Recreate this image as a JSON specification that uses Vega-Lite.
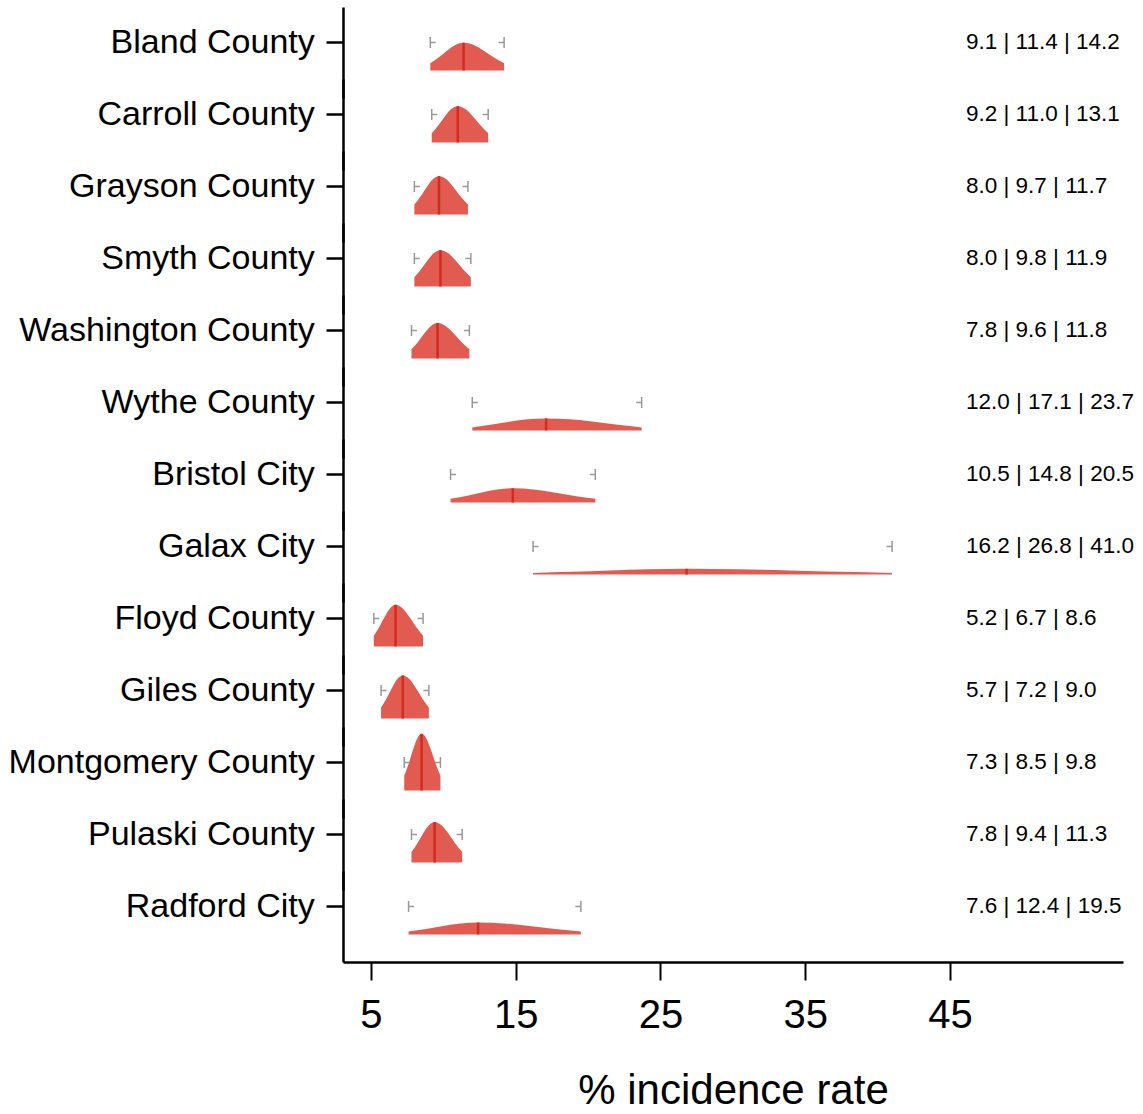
{
  "$schema": "https://vega.github.io/schema/vega-lite/v6.json",
  "padding": {"left": 8, "top": 7, "right": 5, "bottom": 2},
  "bounds": "flush",
  "spacing": 0,
  "data": {"values": [
    {"county": "Bland County", "x": 9.1, "d": 0.0664},
    {"county": "Bland County", "x": 9.675, "d": 0.1202},
    {"county": "Bland County", "x": 10.25, "d": 0.1835},
    {"county": "Bland County", "x": 10.825, "d": 0.2366},
    {"county": "Bland County", "x": 11.4, "d": 0.2574},
    {"county": "Bland County", "x": 12.1, "d": 0.2366},
    {"county": "Bland County", "x": 12.8, "d": 0.1835},
    {"county": "Bland County", "x": 13.5, "d": 0.1202},
    {"county": "Bland County", "x": 14.2, "d": 0.0664},
    {"county": "Carroll County", "x": 9.2, "d": 0.0868},
    {"county": "Carroll County", "x": 9.65, "d": 0.1572},
    {"county": "Carroll County", "x": 10.1, "d": 0.24},
    {"county": "Carroll County", "x": 10.55, "d": 0.3093},
    {"county": "Carroll County", "x": 11.0, "d": 0.3366},
    {"county": "Carroll County", "x": 11.525, "d": 0.3093},
    {"county": "Carroll County", "x": 12.05, "d": 0.24},
    {"county": "Carroll County", "x": 12.575, "d": 0.1572},
    {"county": "Carroll County", "x": 13.1, "d": 0.0868},
    {"county": "Grayson County", "x": 8.0, "d": 0.0915},
    {"county": "Grayson County", "x": 8.425, "d": 0.1657},
    {"county": "Grayson County", "x": 8.85, "d": 0.253},
    {"county": "Grayson County", "x": 9.275, "d": 0.3261},
    {"county": "Grayson County", "x": 9.7, "d": 0.3548},
    {"county": "Grayson County", "x": 10.2, "d": 0.3261},
    {"county": "Grayson County", "x": 10.7, "d": 0.253},
    {"county": "Grayson County", "x": 11.2, "d": 0.1657},
    {"county": "Grayson County", "x": 11.7, "d": 0.0915},
    {"county": "Smyth County", "x": 8.0, "d": 0.0868},
    {"county": "Smyth County", "x": 8.45, "d": 0.1572},
    {"county": "Smyth County", "x": 8.9, "d": 0.24},
    {"county": "Smyth County", "x": 9.35, "d": 0.3093},
    {"county": "Smyth County", "x": 9.8, "d": 0.3366},
    {"county": "Smyth County", "x": 10.325, "d": 0.3093},
    {"county": "Smyth County", "x": 10.85, "d": 0.24},
    {"county": "Smyth County", "x": 11.375, "d": 0.1572},
    {"county": "Smyth County", "x": 11.9, "d": 0.0868},
    {"county": "Washington County", "x": 7.8, "d": 0.0847},
    {"county": "Washington County", "x": 8.25, "d": 0.1533},
    {"county": "Washington County", "x": 8.7, "d": 0.234},
    {"county": "Washington County", "x": 9.15, "d": 0.3016},
    {"county": "Washington County", "x": 9.6, "d": 0.3282},
    {"county": "Washington County", "x": 10.15, "d": 0.3016},
    {"county": "Washington County", "x": 10.7, "d": 0.234},
    {"county": "Washington County", "x": 11.25, "d": 0.1533},
    {"county": "Washington County", "x": 11.8, "d": 0.0847},
    {"county": "Wythe County", "x": 12.0, "d": 0.0289},
    {"county": "Wythe County", "x": 13.275, "d": 0.0524},
    {"county": "Wythe County", "x": 14.55, "d": 0.08},
    {"county": "Wythe County", "x": 15.825, "d": 0.1031},
    {"county": "Wythe County", "x": 17.1, "d": 0.1122},
    {"county": "Wythe County", "x": 18.75, "d": 0.1031},
    {"county": "Wythe County", "x": 20.4, "d": 0.08},
    {"county": "Wythe County", "x": 22.05, "d": 0.0524},
    {"county": "Wythe County", "x": 23.7, "d": 0.0289},
    {"county": "Bristol City", "x": 10.5, "d": 0.0339},
    {"county": "Bristol City", "x": 11.575, "d": 0.0613},
    {"county": "Bristol City", "x": 12.65, "d": 0.0936},
    {"county": "Bristol City", "x": 13.725, "d": 0.1207},
    {"county": "Bristol City", "x": 14.8, "d": 0.1313},
    {"county": "Bristol City", "x": 16.225, "d": 0.1207},
    {"county": "Bristol City", "x": 17.65, "d": 0.0936},
    {"county": "Bristol City", "x": 19.075, "d": 0.0613},
    {"county": "Bristol City", "x": 20.5, "d": 0.0339},
    {"county": "Galax City", "x": 16.2, "d": 0.0136},
    {"county": "Galax City", "x": 18.85, "d": 0.0247},
    {"county": "Galax City", "x": 21.5, "d": 0.0377},
    {"county": "Galax City", "x": 24.15, "d": 0.0486},
    {"county": "Galax City", "x": 26.8, "d": 0.0529},
    {"county": "Galax City", "x": 30.35, "d": 0.0486},
    {"county": "Galax City", "x": 33.9, "d": 0.0377},
    {"county": "Galax City", "x": 37.45, "d": 0.0247},
    {"county": "Galax City", "x": 41.0, "d": 0.0136},
    {"county": "Floyd County", "x": 5.2, "d": 0.0996},
    {"county": "Floyd County", "x": 5.575, "d": 0.1803},
    {"county": "Floyd County", "x": 5.95, "d": 0.2753},
    {"county": "Floyd County", "x": 6.325, "d": 0.3548},
    {"county": "Floyd County", "x": 6.7, "d": 0.3861},
    {"county": "Floyd County", "x": 7.175, "d": 0.3548},
    {"county": "Floyd County", "x": 7.65, "d": 0.2753},
    {"county": "Floyd County", "x": 8.125, "d": 0.1803},
    {"county": "Floyd County", "x": 8.6, "d": 0.0996},
    {"county": "Giles County", "x": 5.7, "d": 0.1026},
    {"county": "Giles County", "x": 6.075, "d": 0.1858},
    {"county": "Giles County", "x": 6.45, "d": 0.2836},
    {"county": "Giles County", "x": 6.825, "d": 0.3656},
    {"county": "Giles County", "x": 7.2, "d": 0.3978},
    {"county": "Giles County", "x": 7.65, "d": 0.3656},
    {"county": "Giles County", "x": 8.1, "d": 0.2836},
    {"county": "Giles County", "x": 8.55, "d": 0.1858},
    {"county": "Giles County", "x": 9.0, "d": 0.1026},
    {"county": "Montgomery County", "x": 7.3, "d": 0.1355},
    {"county": "Montgomery County", "x": 7.6, "d": 0.2452},
    {"county": "Montgomery County", "x": 7.9, "d": 0.3744},
    {"county": "Montgomery County", "x": 8.2, "d": 0.4826},
    {"county": "Montgomery County", "x": 8.5, "d": 0.5251},
    {"county": "Montgomery County", "x": 8.825, "d": 0.4826},
    {"county": "Montgomery County", "x": 9.15, "d": 0.3744},
    {"county": "Montgomery County", "x": 9.475, "d": 0.2452},
    {"county": "Montgomery County", "x": 9.8, "d": 0.1355},
    {"county": "Pulaski County", "x": 7.8, "d": 0.0968},
    {"county": "Pulaski County", "x": 8.2, "d": 0.1752},
    {"county": "Pulaski County", "x": 8.6, "d": 0.2674},
    {"county": "Pulaski County", "x": 9.0, "d": 0.3447},
    {"county": "Pulaski County", "x": 9.4, "d": 0.3751},
    {"county": "Pulaski County", "x": 9.875, "d": 0.3447},
    {"county": "Pulaski County", "x": 10.35, "d": 0.2674},
    {"county": "Pulaski County", "x": 10.825, "d": 0.1752},
    {"county": "Pulaski County", "x": 11.3, "d": 0.0968},
    {"county": "Radford City", "x": 7.6, "d": 0.0285},
    {"county": "Radford City", "x": 8.8, "d": 0.0515},
    {"county": "Radford City", "x": 10.0, "d": 0.0786},
    {"county": "Radford City", "x": 11.2, "d": 0.1014},
    {"county": "Radford City", "x": 12.4, "d": 0.1103},
    {"county": "Radford City", "x": 14.175, "d": 0.1014},
    {"county": "Radford City", "x": 15.95, "d": 0.0786},
    {"county": "Radford City", "x": 17.725, "d": 0.0515},
    {"county": "Radford City", "x": 19.5, "d": 0.0285},
    {"county": "Bland County", "lo": 9.1, "med": 11.4, "hi": 14.2, "peak": 0.2574, "label": "9.1 | 11.4 | 14.2"},
    {"county": "Carroll County", "lo": 9.2, "med": 11.0, "hi": 13.1, "peak": 0.3366, "label": "9.2 | 11.0 | 13.1"},
    {"county": "Grayson County", "lo": 8.0, "med": 9.7, "hi": 11.7, "peak": 0.3548, "label": "8.0 | 9.7 | 11.7"},
    {"county": "Smyth County", "lo": 8.0, "med": 9.8, "hi": 11.9, "peak": 0.3366, "label": "8.0 | 9.8 | 11.9"},
    {"county": "Washington County", "lo": 7.8, "med": 9.6, "hi": 11.8, "peak": 0.3282, "label": "7.8 | 9.6 | 11.8"},
    {"county": "Wythe County", "lo": 12.0, "med": 17.1, "hi": 23.7, "peak": 0.1122, "label": "12.0 | 17.1 | 23.7"},
    {"county": "Bristol City", "lo": 10.5, "med": 14.8, "hi": 20.5, "peak": 0.1313, "label": "10.5 | 14.8 | 20.5"},
    {"county": "Galax City", "lo": 16.2, "med": 26.8, "hi": 41.0, "peak": 0.0529, "label": "16.2 | 26.8 | 41.0"},
    {"county": "Floyd County", "lo": 5.2, "med": 6.7, "hi": 8.6, "peak": 0.3861, "label": "5.2 | 6.7 | 8.6"},
    {"county": "Giles County", "lo": 5.7, "med": 7.2, "hi": 9.0, "peak": 0.3978, "label": "5.7 | 7.2 | 9.0"},
    {"county": "Montgomery County", "lo": 7.3, "med": 8.5, "hi": 9.8, "peak": 0.5251, "label": "7.3 | 8.5 | 9.8"},
    {"county": "Pulaski County", "lo": 7.8, "med": 9.4, "hi": 11.3, "peak": 0.3751, "label": "7.8 | 9.4 | 11.3"},
    {"county": "Radford City", "lo": 7.6, "med": 12.4, "hi": 19.5, "peak": 0.1103, "label": "7.6 | 12.4 | 19.5"}
  ]},
  "facet": {
    "row": {
      "field": "county",
      "type": "nominal",
      "title": null,
      "sort": ["Bland County", "Carroll County", "Grayson County", "Smyth County", "Washington County", "Wythe County", "Bristol City", "Galax City", "Floyd County", "Giles County", "Montgomery County", "Pulaski County", "Radford City"],
      "header": {
        "labelAngle": 0,
        "labelAlign": "left",
        "labelBaseline": "middle",
        "labelOrient": "left",
        "labelFontSize": 34,
        "labelFont": "Liberation Sans",
        "labelColor": "black",
        "labelPadding": 10,
        "labelLimit": 0
      }
    }
  },
  "spec": {
    "width": 780,
    "height": 72,
    "layer": [
      {
        "transform": [{"filter": {"field": "x", "valid": true}}],
        "mark": {"type": "area", "interpolate": "monotone", "color": "#e25b50", "opacity": 1},
        "encoding": {
          "x": {
            "field": "x", "type": "quantitative",
            "scale": {"domain": [3.07, 56.95], "nice": false, "zero": false},
            "axis": {
              "values": [5, 15, 25, 35, 45],
              "grid": false,
              "labelFontSize": 40,
              "labelFont": "Liberation Sans",
              "labelColor": "black",
              "labelPadding": 15,
              "tickSize": 18,
              "tickWidth": 2,
              "tickColor": "black",
              "domainWidth": 2.5,
              "domainColor": "black",
              "offset": 19,
              "title": "% incidence rate",
              "titleFontSize": 42,
              "titleFont": "Liberation Sans",
              "titleFontWeight": "normal",
              "titleColor": "black",
              "titlePadding": 35
            }
          },
          "y": {
            "field": "d", "type": "quantitative",
            "scale": {"domain": [-0.2546, 0.588], "range": [91, 0], "nice": false, "zero": false},
            "axis": {
              "values": [0.2593],
              "labels": false,
              "grid": false,
              "tickSize": 17,
              "tickWidth": 2.5,
              "tickColor": "black",
              "domainWidth": 2.5,
              "domainColor": "black",
              "title": null
            }
          }
        }
      },
      {
        "transform": [{"filter": {"field": "med", "valid": true}}],
        "mark": {"type": "rule", "color": "#d42a1f", "strokeWidth": 2.5},
        "encoding": {
          "x": {"field": "med", "type": "quantitative"},
          "y": {"field": "peak", "type": "quantitative", "title": null},
          "y2": {"datum": 0}
        }
      },
      {
        "transform": [{"filter": {"field": "med", "valid": true}}],
        "mark": {"type": "point", "shape": "M0,-1L0,1M0,0L1,0", "size": 121, "filled": false, "stroke": "#999999", "strokeWidth": 1.5, "opacity": 1},
        "encoding": {
          "x": {"field": "lo", "type": "quantitative"},
          "y": {"datum": 0.2593}
        }
      },
      {
        "transform": [{"filter": {"field": "med", "valid": true}}],
        "mark": {"type": "point", "shape": "M0,-1L0,1M0,0L-1,0", "size": 121, "filled": false, "stroke": "#999999", "strokeWidth": 1.5, "opacity": 1},
        "encoding": {
          "x": {"field": "hi", "type": "quantitative"},
          "y": {"datum": 0.2593}
        }
      },
      {
        "transform": [{"filter": {"field": "med", "valid": true}}],
        "mark": {"type": "text", "align": "left", "baseline": "middle", "fontSize": 22.5, "font": "Liberation Sans", "color": "black"},
        "encoding": {
          "x": {"datum": 46.1},
          "y": {"datum": 0.2593},
          "text": {"field": "label"}
        }
      }
    ]
  },
  "config": {
    "font": "Liberation Sans",
    "view": {"stroke": null}
  }
}
